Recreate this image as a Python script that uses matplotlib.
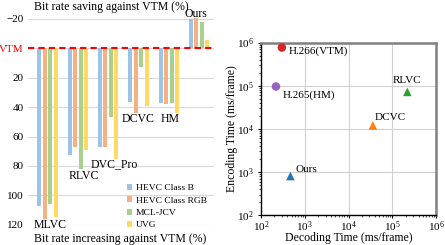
import matplotlib
matplotlib.use("Agg")
import matplotlib.pyplot as plt
import numpy as np

plt.rcParams['font.family'] = ['Liberation Serif', 'DejaVu Serif']
plt.rcParams['mathtext.fontset'] = 'stix'

# ---- data: left chart (BD-rate vs VTM, %) ----
methods = ["MLVC", "RLVC", "DVC_Pro", "DCVC", "HM", "Ours"]
datasets = ["HEVC Class B", "HEVC Class RGB", "MCL-JCV", "UVG"]
hevc_b = [107, 72.5, 67, 36.5, 37.5, -19.7]
hevc_rgb = [116, 67, 67, 44, 38, -20.4]
mcl_jcv = [106, 82, 47, 12.7, 37.5, -18]
uvg = [114.5, 69, 75, 39.5, 44, -5.5]
bar_colors = ["#9DC3E6", "#F4B183", "#A9D18E", "#FFD966"]
yticks_left = [-20, 0, 20, 40, 60, 80, 100, 120]
ytick_labels_left = ["\u221220", "VTM", "20", "40", "60", "80", "100", "120"]

# ---- data: right chart (time, ms/frame) ----
codecs = ["H.266(VTM)", "H.265(HM)", "RLVC", "DCVC", "Ours"]
decode_time = [300, 220, 2.2e5, 3.6e4, 470]
encode_time = [7.7e5, 9.6e4, 7.2e4, 1.2e4, 805]
codec_markers = ["o", "o", "^", "^", "^"]
codec_colors = ["#d62728", "#9467bd", "#2ca02c", "#ff7f0e", "#1f77b4"]

fig = plt.figure(figsize=(4.45, 2.45), dpi=100)

# ---------- left axes ----------
ax = fig.add_axes([0.063, 0.082, 0.418, 0.89])
series = [hevc_b, hevc_rgb, mcl_jcv, uvg]
x = np.arange(len(methods))
slot = 0.18
for j, (vals, col, lab) in enumerate(zip(series, bar_colors, datasets)):
    ax.bar(x + (j - 1.5) * slot, vals, width=0.13, color=col, label=lab, zorder=2)
ax.set_xlim(-0.64, 5.49)
ax.set_ylim(120, -28)
ax.set_yticks(yticks_left)
ax.set_yticklabels(ytick_labels_left)
ax.tick_params(axis='y', length=0, labelsize=8, pad=3)
ax.get_yticklabels()[1].set_color('red')
ax.set_xticks([])
for s in ax.spines.values():
    s.set_visible(False)
ax.grid(axis='y', color='#d9d9d9', linewidth=0.8, zorder=0)
ax.axhline(0, color='red', linestyle='--', linewidth=1.5, dashes=(3, 2), zorder=3)

label_pos = {"MLVC": (0.1, 120), "RLVC": (1.2, 86.5), "DVC_Pro": (2.2, 78.5),
             "DCVC": (3.0, 48), "HM": (4.05, 48), "Ours": (4.9, -23)}
for m in methods:
    lx, ly = label_pos[m]
    ax.text(lx, ly, m, ha='center', va='center', fontsize=8.5)

leg = ax.legend(loc='upper left', bbox_to_anchor=(0.51, 0.205), frameon=False,
                fontsize=6.8, handlelength=0.55, handleheight=0.55,
                handletextpad=0.45, labelspacing=0.45, borderaxespad=0)

fig.text(0.25, 0.972, "Bit rate saving against VTM (%)", ha='center', va='center', fontsize=8.5)
fig.text(0.27, 0.024, "Bit rate increasing against VTM (%)", ha='center', va='center', fontsize=8.5)

# ---------- right axes ----------
ax2 = fig.add_axes([0.5865, 0.122, 0.3935, 0.704])
for name, dx, ey, mk, col in zip(codecs, decode_time, encode_time, codec_markers, codec_colors):
    ax2.scatter(dx, ey, marker=mk, s=38, color=col, zorder=3, edgecolors='none')
ax2.set_xscale('log')
ax2.set_yscale('log')
ax2.set_xlim(1e2, 1e6)
ax2.set_ylim(1e2, 1e6)
ax2.grid(True, which='major', color='#d0d0d0', linewidth=0.8, zorder=0)
ax2.tick_params(which='major', labelsize=8, length=2.5, width=0.8)
ax2.tick_params(axis='x', which='major', pad=0.5)
ax2.tick_params(axis='y', which='major', pad=2.5)
ax2.tick_params(which='minor', length=1.5, width=0.5)
ax2.spines['left'].set_color('black')
ax2.spines['bottom'].set_color('black')
ax2.spines['left'].set_linewidth(1.0)
ax2.spines['bottom'].set_linewidth(1.0)
for side in ['top', 'right']:
    ax2.spines[side].set_color('#808080')
    ax2.spines[side].set_linewidth(1.8)
ax2.set_xlabel("Decoding Time (ms/frame)", fontsize=8.5)
ax2.set_ylabel("Encoding Time (ms/frame)", fontsize=8.5)
ax2.xaxis.set_label_coords(0.5, -0.1)
ax2.yaxis.set_label_coords(-0.13, 0.5)

offsets = {"H.266(VTM)": (5, -3, 'left', 'center'),
           "H.265(HM)": (5, -6, 'left', 'center'),
           "RLVC": (0, 8, 'center', 'center'),
           "DCVC": (1, 6, 'left', 'center'),
           "Ours": (4, 5, 'left', 'center')}
for name, dx, ey in zip(codecs, decode_time, encode_time):
    ox, oy, ha, va = offsets[name]
    ax2.annotate(name, (dx, ey), xytext=(ox, oy), textcoords='offset points',
                 ha=ha, va=va, fontsize=8)

fig.savefig("out.png", dpi=100)
